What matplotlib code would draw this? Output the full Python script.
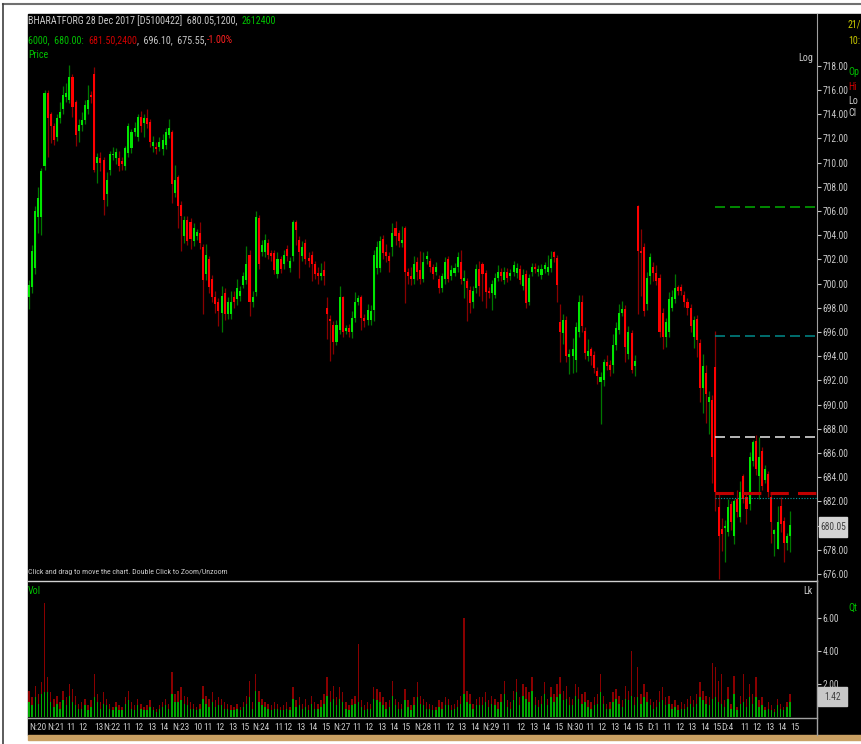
import matplotlib
matplotlib.use("Agg")
import matplotlib.pyplot as plt
import matplotlib.transforms as mtransforms
from matplotlib import font_manager as fm
from matplotlib.patches import Rectangle
from matplotlib.lines import Line2D
import numpy as np

W, H = 862, 744

# 15-minute bars, BHARATFORG, 20 Nov - 4 Dec 2017
opens = [
    698.9, 699.7, 701.3, 705.5, 705.5, 709.7, 715.8, 714.0, 713.0, 712.1,
    713.7, 714.4, 715.4, 715.2, 717.1, 715.0, 712.6, 713.1, 713.5, 714.4,
    715.6, 717.3, 710.0, 710.4, 710.2, 707.4, 709.4, 710.6, 710.4, 710.4,
    710.1, 709.7, 710.8, 711.2, 712.5, 712.1, 713.8, 713.3, 713.7, 713.4,
    711.4, 711.3, 711.3, 711.1, 711.5, 712.3, 712.5, 707.5, 708.8, 706.5,
    703.9, 705.3, 705.1, 703.5, 703.9, 704.2, 703.0, 700.8, 702.0, 700.4,
    698.9, 698.5, 697.6, 699.2, 697.5, 697.5, 698.9, 698.7, 699.0, 699.9,
    700.3, 702.4, 698.5, 699.3, 705.4, 702.6, 702.6, 703.4, 702.5, 702.5,
    700.8, 702.0, 701.6, 702.9, 701.3, 702.3, 705.1, 703.6, 702.3, 703.4,
    702.1, 702.4, 701.6, 700.9, 700.6, 701.1, 698.0, 697.1, 696.6, 695.2,
    696.2, 698.9, 696.1, 696.3, 696.0, 697.2, 698.5, 698.9, 697.2, 697.0,
    697.0, 697.8, 701.3, 701.3, 703.7, 702.6, 702.3, 703.0, 704.6, 704.2,
    703.4, 704.6, 701.0, 700.6, 700.4, 701.8, 701.1, 700.4, 702.0, 701.9,
    701.4, 701.0, 700.4, 699.6, 700.4, 702.0, 700.6, 700.9, 701.4, 701.8,
    700.2, 700.2, 699.5, 698.5, 699.6, 701.2, 701.6, 700.9, 699.4, 699.2,
    699.1, 700.5, 701.0, 700.3, 701.0, 700.6, 701.0, 700.9, 701.2, 699.8,
    700.8, 698.5, 701.0, 701.4, 701.0, 700.7, 701.2, 701.0, 701.3, 702.6,
    702.1, 696.8, 695.9, 697.0, 693.9, 694.0, 693.7, 696.0, 698.5, 696.1,
    694.0, 694.6, 694.1, 692.8, 691.9, 692.0, 693.5, 693.3, 693.3, 694.9,
    696.2, 697.6, 697.9, 694.2, 695.9, 693.2, 706.4, 702.7, 703.0, 698.3,
    700.6, 701.4, 700.9, 700.5, 697.6, 695.6, 696.0, 698.0, 698.7, 699.7,
    699.7, 699.1, 698.5, 698.0, 695.6, 697.1, 695.1, 691.4, 692.6, 690.2,
    690.4, 693.1, 681.5, 679.7, 679.8, 679.5, 681.8, 679.1, 682.2, 680.7,
    684.1, 682.4, 681.8, 685.3, 687.0, 684.1, 686.2, 683.8, 684.3, 682.4,
    679.3, 678.1, 681.6, 680.4, 678.6, 679.1,
]
closes = [
    699.9, 702.7, 706.0, 707.1, 709.3, 715.8, 713.7, 713.0, 711.9, 713.7,
    714.2, 715.6, 715.8, 717.1, 714.6, 712.3, 713.1, 713.5, 714.8, 715.2,
    715.4, 709.4, 710.5, 710.0, 706.9, 708.6, 710.7, 710.7, 710.9, 709.7,
    709.9, 711.2, 713.0, 712.5, 712.9, 713.8, 713.0, 713.7, 713.2, 711.7,
    711.7, 711.1, 711.7, 711.9, 712.5, 712.9, 708.2, 708.6, 706.4, 705.6,
    705.3, 703.5, 703.7, 704.6, 704.3, 703.4, 700.3, 702.4, 699.7, 698.9,
    698.3, 697.7, 699.0, 697.5, 698.5, 698.5, 698.5, 699.6, 699.4, 700.6,
    701.6, 698.5, 698.9, 705.5, 701.6, 703.2, 703.6, 702.4, 702.3, 701.1,
    702.0, 701.2, 702.4, 702.3, 701.9, 705.1, 704.4, 702.6, 703.0, 702.0,
    701.9, 701.6, 700.8, 700.6, 700.9, 700.6, 697.5, 696.9, 695.2, 696.6,
    698.9, 696.0, 696.3, 696.0, 697.2, 698.5, 698.8, 697.2, 696.9, 697.8,
    697.7, 702.4, 703.0, 703.5, 702.5, 702.3, 701.9, 704.2, 703.9, 703.5,
    703.6, 701.0, 700.6, 700.4, 701.6, 701.0, 700.4, 701.8, 702.3, 701.4,
    700.8, 701.4, 699.6, 700.6, 701.8, 700.4, 701.1, 701.3, 702.2, 700.4,
    700.5, 699.6, 698.4, 699.4, 701.2, 699.8, 700.8, 699.3, 699.2, 700.0,
    700.5, 701.0, 700.6, 701.0, 700.5, 700.9, 701.5, 701.3, 700.3, 700.7,
    698.4, 700.5, 701.4, 701.2, 701.2, 701.2, 701.5, 701.4, 702.0, 702.2,
    699.9, 696.0, 697.0, 694.0, 694.2, 694.6, 696.4, 698.5, 696.5, 694.3,
    694.4, 694.0, 693.0, 692.4, 692.3, 693.5, 693.2, 692.9, 694.9, 696.3,
    697.6, 697.9, 694.8, 696.0, 692.9, 693.6, 702.7, 702.5, 697.7, 700.5,
    702.2, 700.9, 700.2, 696.0, 695.6, 696.8, 698.7, 698.9, 699.6, 699.4,
    699.4, 698.5, 698.0, 696.5, 697.0, 695.3, 691.4, 693.2, 690.9, 690.6,
    685.7, 682.8, 679.1, 679.3, 680.0, 681.5, 680.3, 682.0, 681.1, 682.8,
    682.2, 681.4, 685.7, 686.9, 684.7, 685.7, 683.3, 684.7, 682.8, 680.3,
    679.6, 680.3, 680.1, 678.6, 679.1, 680.05,
]
highs = [
    700.3, 703.2, 706.4, 708.0, 709.6, 716.0, 716.0, 714.2, 713.3, 714.0,
    715.0, 716.3, 716.6, 718.1, 717.3, 715.2, 713.6, 714.2, 715.2, 716.4,
    715.9, 717.9, 710.8, 710.9, 710.5, 709.2, 711.0, 711.3, 711.2, 711.0,
    710.5, 711.4, 713.3, 712.8, 713.4, 714.0, 714.3, 714.0, 714.4, 713.6,
    712.2, 711.7, 712.1, 712.4, 712.9, 713.6, 712.7, 709.8, 709.0, 706.8,
    705.6, 705.6, 705.4, 705.0, 704.5, 705.1, 703.3, 703.3, 702.3, 700.7,
    699.4, 698.8, 699.8, 699.6, 698.9, 699.4, 699.4, 700.4, 699.8, 701.0,
    703.1, 702.8, 699.4, 706.0, 705.7, 703.6, 704.1, 703.7, 702.8, 702.8,
    702.6, 702.3, 702.8, 703.2, 702.2, 705.3, 705.3, 703.9, 703.5, 703.7,
    702.6, 702.7, 701.9, 701.4, 701.7, 701.9, 698.9, 697.4, 696.9, 697.0,
    699.8, 699.0, 696.6, 696.7, 697.7, 699.3, 699.1, 699.1, 697.5, 698.3,
    698.2, 702.8, 703.5, 703.9, 704.0, 703.3, 702.6, 705.0, 705.2, 704.4,
    704.8, 704.8, 701.3, 701.4, 702.3, 702.2, 702.7, 702.6, 702.7, 702.1,
    701.6, 701.8, 700.7, 700.9, 702.2, 702.3, 701.5, 701.7, 702.6, 702.8,
    701.1, 700.5, 699.8, 699.8, 701.6, 701.9, 701.8, 701.1, 699.7, 700.3,
    700.9, 701.5, 701.3, 701.4, 701.3, 701.2, 701.9, 701.7, 701.5, 701.2,
    701.1, 700.8, 701.7, 701.7, 701.5, 701.6, 701.8, 702.4, 702.7, 702.7,
    702.4, 698.3, 697.5, 697.3, 694.6, 695.5, 696.8, 699.1, 699.1, 696.4,
    695.4, 694.8, 694.4, 693.1, 692.7, 693.8, 694.1, 693.7, 695.8, 696.8,
    698.3, 698.6, 698.2, 696.5, 696.2, 694.1, 706.5, 704.5, 703.4, 701.0,
    702.5, 701.8, 701.5, 700.8, 698.0, 697.2, 699.3, 699.5, 700.8, 699.9,
    700.0, 699.4, 698.8, 698.3, 697.3, 697.4, 695.4, 694.2, 693.3, 691.1,
    690.8, 696.1, 682.6, 680.6, 680.5, 682.2, 682.0, 682.2, 682.9, 683.7,
    684.3, 682.6, 686.1, 687.1, 687.5, 687.3, 686.5, 685.0, 684.5, 682.7,
    679.7, 681.6, 682.4, 680.7, 679.4, 681.2,
]
lows = [
    697.9, 699.2, 700.8, 704.2, 704.0, 709.4, 710.5, 711.6, 711.5, 711.8,
    713.3, 714.0, 715.0, 714.9, 713.8, 711.4, 711.7, 712.6, 713.2, 714.0,
    714.9, 709.2, 708.3, 709.3, 705.7, 706.4, 709.0, 710.2, 709.9, 709.3,
    709.4, 709.4, 710.5, 710.8, 712.2, 711.8, 712.5, 712.1, 712.9, 711.3,
    710.9, 710.7, 711.0, 710.6, 711.1, 712.0, 706.7, 707.2, 704.6, 702.7,
    703.4, 703.2, 702.9, 703.1, 703.6, 702.9, 697.5, 700.3, 699.2, 698.5,
    697.6, 696.5, 696.0, 697.0, 697.1, 697.1, 698.0, 698.2, 698.6, 699.6,
    700.0, 697.3, 698.1, 699.0, 701.2, 702.3, 702.2, 702.0, 701.9, 700.8,
    700.5, 700.9, 701.2, 701.9, 701.0, 701.9, 703.2, 700.5, 701.9, 701.6,
    701.4, 700.2, 700.4, 700.0, 700.3, 699.9, 695.4, 693.6, 694.2, 694.9,
    695.8, 695.6, 695.8, 695.6, 695.5, 696.8, 698.2, 696.2, 696.4, 696.6,
    696.6, 696.9, 700.8, 701.0, 702.0, 701.8, 701.0, 702.3, 703.2, 703.0,
    703.0, 698.4, 700.0, 699.9, 700.0, 700.3, 700.0, 700.1, 701.6, 701.0,
    700.4, 700.7, 699.2, 699.3, 700.0, 700.1, 700.3, 700.6, 701.0, 700.0,
    698.8, 696.9, 697.6, 698.0, 699.2, 699.0, 698.6, 698.0, 698.8, 697.8,
    698.8, 700.2, 700.2, 700.0, 700.1, 700.3, 700.6, 700.5, 700.0, 699.5,
    698.0, 698.2, 700.6, 700.9, 700.6, 700.4, 700.9, 700.7, 701.0, 701.8,
    698.5, 693.5, 695.0, 693.5, 692.5, 692.6, 692.7, 695.6, 696.0, 693.8,
    693.6, 693.3, 692.6, 691.7, 688.4, 691.5, 692.9, 692.4, 692.6, 694.5,
    695.8, 697.3, 693.5, 693.8, 692.6, 692.4, 697.5, 699.0, 697.3, 697.8,
    700.0, 700.2, 699.9, 695.6, 694.6, 694.8, 695.6, 697.7, 698.4, 699.1,
    699.1, 698.1, 697.4, 696.0, 694.7, 693.9, 690.2, 689.3, 688.5, 687.6,
    683.5, 681.2, 675.55, 677.9, 677.0, 679.1, 679.6, 678.5, 680.7, 680.3,
    681.9, 680.1, 681.3, 684.9, 684.2, 682.2, 682.9, 683.5, 682.4, 678.6,
    677.5, 678.1, 679.5, 677.0, 678.0, 677.8,
]
# volume in lakh shares: whole bar and its green (lower) part
vol_total = [
    1.6, 1.2, 1.9, 1.4, 2.1, 6.9, 2.4, 1.5, 1.1, 1.3,
    0.9, 1.6, 1.2, 2.0, 1.7, 1.3, 0.8, 0.9, 1.1, 0.7,
    1.0, 2.6, 1.4, 0.9, 1.5, 1.1, 0.8, 0.6, 0.9, 0.7,
    0.6, 1.2, 1.6, 0.9, 0.7, 1.1, 0.8, 0.6, 0.7, 1.0,
    0.6, 0.5, 0.7, 0.9, 1.1, 0.8, 2.7, 1.4, 1.6, 1.8,
    1.3, 1.2, 0.9, 0.8, 0.6, 0.8, 1.9, 1.3, 1.1, 1.5,
    1.0, 1.2, 1.1, 0.9, 0.8, 0.7, 0.6, 0.8, 0.6, 0.9,
    1.3, 2.2, 0.9, 2.6, 1.6, 1.1, 0.9, 0.8, 0.7, 0.9,
    0.8, 0.6, 0.7, 0.9, 0.6, 1.8, 1.0, 1.2, 0.8, 1.1,
    0.7, 1.3, 0.9, 0.8, 1.0, 1.4, 2.4, 1.6, 1.9, 1.2,
    1.8, 1.5, 0.9, 0.7, 1.1, 1.3, 4.4, 1.0, 0.7, 0.9,
    0.8, 1.8, 1.7, 1.5, 1.2, 0.9, 1.0, 2.2, 1.1, 0.9,
    0.8, 1.7, 1.0, 0.7, 1.2, 2.1, 1.3, 1.1, 0.9, 0.8,
    0.7, 0.6, 1.0, 0.9, 1.2, 1.1, 0.7, 0.8, 1.0, 1.3,
    6.0, 1.6, 1.4, 0.8, 1.1, 1.2, 1.2, 1.5, 1.0, 1.3,
    1.1, 0.9, 1.4, 2.2, 1.0, 0.9, 1.6, 2.3, 1.2, 2.0,
    1.8, 1.5, 2.4, 1.2, 1.0, 1.3, 2.1, 1.1, 1.8, 1.4,
    2.0, 2.4, 1.6, 1.9, 1.2, 1.1, 2.0, 1.8, 1.4, 1.5,
    1.0, 0.9, 1.2, 1.4, 2.6, 1.3, 0.8, 0.9, 1.5, 1.7,
    1.3, 1.0, 1.9, 1.6, 4.0, 1.2, 3.0, 1.4, 2.0, 1.5,
    1.1, 0.9, 1.0, 1.6, 1.8, 1.2, 1.3, 0.8, 1.0, 0.7,
    0.9, 0.8, 1.1, 1.3, 1.0, 1.4, 2.1, 1.6, 1.3, 1.2,
    3.3, 3.0, 2.2, 2.6, 1.0, 1.8, 0.8, 2.5, 0.6, 1.3,
    2.6, 1.1, 2.0, 1.4, 2.4, 1.0, 1.2, 0.6, 0.9, 0.7,
    0.5, 1.1, 0.8, 0.6, 0.9, 1.42,
]
vol_green = [
    0.9, 0.7, 1.2, 0.8, 1.4, 1.5, 1.5, 0.9, 0.6, 0.8,
    0.5, 1.0, 0.7, 1.3, 0.9, 0.7, 0.5, 0.5, 0.7, 0.4,
    0.6, 1.2, 0.9, 0.5, 0.8, 0.7, 0.5, 0.4, 0.6, 0.4,
    0.4, 0.8, 1.0, 0.5, 0.4, 0.7, 0.5, 0.4, 0.4, 0.6,
    0.4, 0.3, 0.5, 0.6, 0.7, 0.5, 1.4, 0.9, 0.9, 1.0,
    0.8, 0.7, 0.5, 0.5, 0.4, 0.5, 1.1, 0.8, 0.6, 0.9,
    0.6, 0.7, 0.7, 0.5, 0.5, 0.4, 0.4, 0.5, 0.4, 0.6,
    0.8, 1.2, 0.5, 1.6, 0.9, 0.7, 0.6, 0.5, 0.4, 0.5,
    0.5, 0.4, 0.4, 0.5, 0.4, 1.1, 0.6, 0.7, 0.5, 0.6,
    0.4, 0.8, 0.5, 0.5, 0.6, 0.8, 1.3, 0.9, 1.1, 0.7,
    1.1, 0.9, 0.5, 0.4, 0.7, 0.8, 0.9, 0.6, 0.4, 0.5,
    0.5, 1.1, 1.0, 0.9, 0.7, 0.5, 0.6, 1.3, 0.7, 0.5,
    0.5, 1.0, 0.6, 0.4, 0.7, 1.2, 0.8, 0.7, 0.5, 0.5,
    0.4, 0.4, 0.6, 0.5, 0.7, 0.7, 0.4, 0.5, 0.6, 0.8,
    1.4, 0.9, 0.8, 0.5, 0.7, 0.7, 0.7, 0.9, 0.6, 0.8,
    0.7, 0.5, 0.9, 1.4, 0.6, 0.5, 1.0, 1.5, 0.7, 1.3,
    1.1, 0.9, 1.6, 0.7, 0.6, 0.8, 1.4, 0.7, 1.2, 0.9,
    1.2, 1.4, 1.0, 1.1, 0.7, 0.7, 1.3, 1.1, 0.8, 0.9,
    0.6, 0.5, 0.7, 0.8, 1.5, 0.8, 0.5, 0.5, 0.9, 1.1,
    0.8, 0.6, 1.1, 1.0, 1.3, 0.7, 1.2, 0.8, 1.2, 0.9,
    0.7, 0.5, 0.6, 0.9, 1.0, 0.7, 0.8, 0.5, 0.6, 0.4,
    0.5, 0.5, 0.6, 0.8, 0.6, 0.8, 1.2, 1.0, 0.8, 0.7,
    1.1, 1.2, 0.9, 0.8, 0.6, 1.1, 0.5, 1.4, 0.4, 0.8,
    0.9, 0.6, 1.2, 0.8, 1.2, 0.6, 0.7, 0.4, 0.5, 0.4,
    0.3, 0.7, 0.5, 0.4, 0.6, 0.9,
]

tick_lbl = ["N:20", "N:21", "11", "12", "13", "N:22", "11", "12", "13", "14",
            "N:23", "10", "11", "12", "13", "15", "N:24", "11", "12", "13", "14", "15",
            "N:27", "11", "12", "13", "14", "15", "N:28", "11", "12", "13", "14",
            "N:29", "11", "12", "13", "14", "15", "N:30", "11", "12", "13", "14", "15",
            "D:1", "11", "12", "13", "14", "15", "D:4", "11", "12", "13", "14", "15"]
tick_idx = [0, 6, 12, 16, 21, 24, 30, 34, 38, 42,
            46, 53, 56, 60, 64, 68, 72, 79, 82, 86, 90, 94,
            98, 104, 108, 112, 116, 120, 124, 130, 134, 138, 142,
            146, 152, 157, 161, 165, 169, 173, 179, 183, 187, 191, 195,
            199, 204, 208, 212, 216, 220, 223, 229, 233, 237, 241, 245]

price_ticks = np.arange(676, 720, 2)
vol_ticks = [2, 4, 6]
last_price = 680.05
last_vol = 1.42

# horizontal levels drawn from the gap-down bar to the right edge
level_start = 221
levels = [706.35, 695.65, 687.3, 682.7]
level_colors = ['#00a000', '#008080', '#d8d8d8', '#c00000']
level_widths = [1.2, 1.2, 1.2, 2.2]
dotted_level = 682.25

opens, closes = np.array(opens), np.array(closes)
highs, lows = np.array(highs), np.array(lows)
vol_total, vol_green = np.array(vol_total), np.array(vol_green)
x = np.arange(len(closes))

GREY = '#c8c8c8'

# narrowest sans face that is installed
_faces = {(f.name, f.stretch) for f in fm.fontManager.ttflist}
_names = {n for n, _ in _faces}
if 'Liberation Sans Narrow' in _names:
    FONT, STRETCH = 'Liberation Sans Narrow', 'normal'
elif 'Roboto Condensed' in _names:
    FONT, STRETCH = 'Roboto Condensed', 'normal'
elif any(n == 'DejaVu Sans' and 'condensed' in str(s) for n, s in _faces):
    FONT, STRETCH = 'DejaVu Sans', 'condensed'
else:
    FONT, STRETCH = 'Liberation Sans', 'normal'
TXT = dict(family=FONT, fontstretch=STRETCH)


def fx(px):
    return px / W


def fy(py):
    return 1 - py / H


fig = plt.figure(figsize=(W / 100, H / 100), dpi=100, facecolor='white')
renderer = fig.canvas.get_renderer()


def size_for(s, target_w, base=8.0):
    t = fig.text(0, 0, s, fontsize=base, **TXT)
    w = t.get_window_extent(renderer=renderer).width
    t.remove()
    return base * target_w / w


HEAD_FS = size_for("BHARATFORG 28 Dec 2017 [D5100422]  680.05,1200,  2612400", 250)
TICK_FS = size_for("718.00", 26)
TIME_FS = size_for("N:20", 17.5)
NOTE_FS = size_for("Click and drag to move the chart. Double Click to Zoom/Unzoom", 200)

fig.patches.append(Rectangle((fx(28), fy(735)), (W - 28) / W, (735 - 14) / H,
                             transform=fig.transFigure, color='black', zorder=-5))
fig.patches.append(Rectangle((fx(28), fy(740)), (W - 28) / W, 5 / H,
                             transform=fig.transFigure, color='#c9a063', zorder=-5))
fig.lines.append(Line2D([fx(3), 1], [fy(4), fy(4)], transform=fig.transFigure,
                        color='#707070', lw=1.5))
fig.lines.append(Line2D([fx(3.5), fx(3.5)], [fy(4), 0], transform=fig.transFigure,
                        color='#404040', lw=1.2))

XL = (-0.32, 253.7)

# ---- price panel
ax = fig.add_axes([fx(28), fy(580), (817 - 28) / W, (580 - 14) / H])
ax.set_facecolor('none')
ax.set_xlim(*XL)
ax.set_ylim(675.5, 722.29)
up = closes >= opens
dn = ~up
ax.vlines(x[up], lows[up], highs[up], color='#007800', lw=0.9, zorder=2)
ax.vlines(x[dn], lows[dn], highs[dn], color='#8a0000', lw=0.9, zorder=2)
body_lo = np.minimum(opens, closes)
body_h = np.maximum(np.abs(closes - opens), 0.12)
ax.bar(x[up], body_h[up], bottom=body_lo[up], width=0.66, color='#00e600', lw=0, zorder=3)
ax.bar(x[dn], body_h[dn], bottom=body_lo[dn], width=0.66, color='#ff0000', lw=0, zorder=3)

for lv, c, lw in zip(levels, level_colors, level_widths):
    ax.hlines(lv, level_start, XL[1], colors=c, lw=lw, linestyles=(0, (6, 3)), zorder=4)
ax.hlines(dotted_level, level_start, XL[1], colors='#00a0a0', lw=0.8,
          linestyles=(0, (1, 1.5)), zorder=4)

for s in ['top', 'left', 'bottom']:
    ax.spines[s].set_visible(False)
ax.spines['right'].set_color('#a0a0a0')
ax.set_xticks([])
ax.yaxis.tick_right()
ax.set_yticks(price_ticks)
# the 680.00 label sits under the last-price box
ax.set_yticklabels(["" if v == 680 else f"{v:.2f}" for v in price_ticks], **TXT)
ax.tick_params(axis='y', colors=GREY, length=3, width=0.8, pad=1, labelsize=TICK_FS)

# ---- volume panel
vax = fig.add_axes([fx(28), fy(717), (817 - 28) / W, (717 - 581) / H])
vax.set_facecolor('none')
vax.set_xlim(*XL)
vax.set_ylim(0, 8.24)
vax.bar(x, vol_total, width=0.45, color='#8a0000', lw=0)
vax.bar(x, vol_green, width=0.45, color='#00a800', lw=0)
for s in ['top', 'left', 'bottom']:
    vax.spines[s].set_visible(False)
vax.spines['right'].set_color('#a0a0a0')
vax.set_xticks([])
vax.yaxis.tick_right()
vax.set_yticks(vol_ticks)
vax.set_yticklabels([f"{v:.2f}" for v in vol_ticks], **TXT)
vax.tick_params(axis='y', colors=GREY, length=3, width=0.8, pad=1, labelsize=TICK_FS)

# separators and axis line
fig.lines.append(Line2D([fx(28), fx(817)], [fy(580.5), fy(580.5)], transform=fig.transFigure,
                        color='#d0d0d0', lw=1))
fig.lines.append(Line2D([fx(28), fx(817)], [fy(717.5), fy(717.5)], transform=fig.transFigure,
                        color='#a0a0a0', lw=1))
fig.lines.append(Line2D([fx(817), fx(817)], [fy(580), fy(735)], transform=fig.transFigure,
                        color='#a0a0a0', lw=1))

# time labels
tr = mtransforms.blended_transform_factory(vax.transData, vax.transAxes)
for i, lbl in zip(tick_idx, tick_lbl):
    vax.text(i, -0.075, lbl, transform=tr, ha='left', va='center', color=GREY,
             fontsize=TIME_FS, clip_on=False, **TXT)


# ---- texts
def chain(x0, y0, parts, size):
    xp = x0
    for s, c in parts:
        t = fig.text(fx(xp), fy(y0), s, color=c, fontsize=size, ha='left', va='center', **TXT)
        xp += t.get_window_extent(renderer=renderer).width


chain(28, 21, [("BHARATFORG 28 Dec 2017 [D5100422]  680.05,1200,  ", GREY),
               ("2612400", '#00c000')], HEAD_FS)
chain(28, 40, [("6000,  680.00:  ", '#00c000'), ("681.50,2400", '#d00000'),
               (",  696.10,  675.55,", GREY), ("-1.00%", '#ff2020')], HEAD_FS)
fig.text(fx(28), fy(55), "Price", color='#00c000', fontsize=HEAD_FS, va='center', **TXT)
fig.text(fx(28), fy(572), "Click and drag to move the chart. Double Click to Zoom/Unzoom",
         color=GREY, fontsize=NOTE_FS, va='center', **TXT)
fig.text(fx(28), fy(591), "Vol", color='#00c000', fontsize=HEAD_FS, va='center', **TXT)
fig.text(fx(813), fy(58), "Log", color=GREY, fontsize=HEAD_FS, ha='right', va='center', **TXT)
fig.text(fx(813), fy(591), "Lk", color=GREY, fontsize=HEAD_FS, ha='right', va='center', **TXT)

side = [("21/", 24, '#c8c800'), ("10:", 41, '#c8c800'), ("Op", 72, '#00c000'),
        ("Hi", 87, '#d00000'), ("Lo", 101, GREY), ("Cl", 113, GREY), ("Qt", 608, '#00c000')]
for s, yy, c in side:
    fig.text(fx(848), fy(yy), s, color=c, fontsize=HEAD_FS, va='center', **TXT)

# last-value boxes on the right axis
for (x0, y0, x1, y1, fc), val in [((819, 517, 847, 537, '#d4d4d4'), last_price),
                                  ((818, 687, 847, 706, '#c8c8c8'), last_vol)]:
    fig.patches.append(Rectangle((fx(x0), fy(y1)), (x1 - x0) / W, (y1 - y0) / H,
                                 transform=fig.transFigure, color=fc, zorder=5))
    fig.text(fx((x0 + x1) / 2), fy((y0 + y1) / 2), f"{val:.2f}", color='#404040',
             fontsize=TICK_FS, ha='center', va='center', zorder=6, **TXT)

fig.savefig("out.png", dpi=100, facecolor=fig.get_facecolor())
